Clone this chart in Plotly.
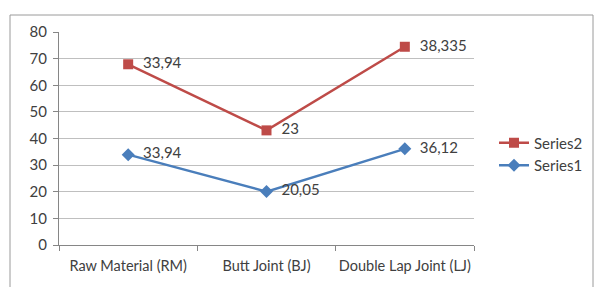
import plotly.graph_objects as go

categories = ["Raw Material (RM)", "Butt Joint (BJ)", "Double Lap Joint (LJ)"]
series1 = [33.94, 20.05, 36.12]
series2 = [33.94, 23, 38.335]
y_ticks = [0, 10, 20, 30, 40, 50, 60, 70, 80]

def lab(vals):
    return ["  " + (f"{v:g}" if v != int(v) else str(int(v))).replace(".", ",") for v in vals]

W, H = 594, 287
L, R, T, B = 59, 474, 32, 245
pw, ph = R - L, B - T

font_family = "Lato, Open Sans, sans-serif"
txt_color = "#404040"
fs = 15

fig = go.Figure()
fig.add_trace(go.Scatter(
    x=categories, y=series1, name="Series1", stackgroup="s", fill="none",
    mode="lines+markers+text", text=lab(series1), textposition="middle right",
    textfont=dict(size=fs, color=txt_color, family=font_family),
    line=dict(color="#4A7EBB", width=2.5),
    marker=dict(symbol="diamond", size=10, color="#4A7EBB"),
))
fig.add_trace(go.Scatter(
    x=categories, y=series2, name="Series2", stackgroup="s", fill="none",
    mode="lines+markers+text", text=lab(series2), textposition="middle right",
    textfont=dict(size=fs, color=txt_color, family=font_family),
    line=dict(color="#BE4B48", width=2.5),
    marker=dict(symbol="square", size=10, color="#BE4B48"),
))

fig.update_layout(
    width=W, height=H,
    margin=dict(l=L, r=W - R, t=T, b=H - B, autoexpand=False),
    paper_bgcolor="white", plot_bgcolor="white",
    font=dict(family=font_family, size=fs, color="#404040"),
    showlegend=True,
    legend=dict(x=(494 - L) / pw, y=(B - 154) / ph, xanchor="left", yanchor="middle",
                traceorder="reversed", font=dict(size=fs, color="#404040"),
                bgcolor="rgba(0,0,0,0)", itemwidth=30, tracegroupgap=6),
    xaxis=dict(type="category", showgrid=False, showline=True, linecolor="#868686",
               linewidth=1, ticks="outside", tickson="boundaries", ticklen=5,
               tickcolor="#868686", range=[-0.5, 2.5], fixedrange=True,
               ticklabelstandoff=8, tickangle=0, automargin=False,
               tickfont=dict(size=14.5)),
    yaxis=dict(range=[0, 80], tickvals=y_ticks, showgrid=True, gridcolor="#BFBFBF",
               gridwidth=1, showline=True, linecolor="#868686", linewidth=1,
               ticks="outside", ticklen=5, tickcolor="#868686", zeroline=False,
               fixedrange=True, automargin=False, ticklabelstandoff=3),
)

fig.add_shape(type="rect", xref="paper", yref="paper",
              x0=(10 - L) / pw, x1=(593 - L) / pw,
              y0=(B - 300) / ph, y1=(B - 15) / ph,
              line=dict(color="#9A9A9A", width=1), layer="below")

fig.write_html("out.html", config={"displayModeBar": False},
               post_script="document.body.style.margin='0';document.body.style.overflow='hidden';")
